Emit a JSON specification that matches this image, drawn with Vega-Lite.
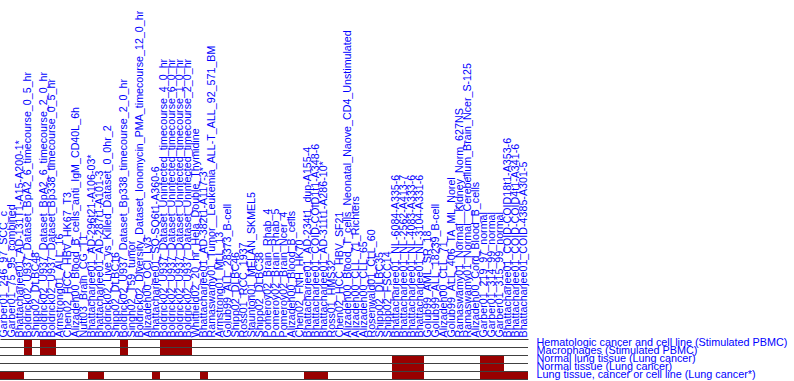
{
  "$schema": "https://vega.github.io/schema/vega-lite/v6.json",
  "autosize": {"type": "none"},
  "width": 528,
  "height": 40,
  "padding": {"left": 0, "top": 339, "right": 266, "bottom": 2},
  "background": "white",
  "config": {"view": {"stroke": null}, "font": "Liberation Sans"},
  "data": {
    "values": [
      {"sample": "Garber01_246_97_SCC_c", "h": 0, "m": 0, "nl": 0, "nt": 0, "lc": 1},
      {"sample": "Garber01_75_95_combined", "h": 0, "m": 0, "nl": 0, "nt": 0, "lc": 1},
      {"sample": "Bhattacharjee01_AD-131T1-A15-A200-1*", "h": 0, "m": 0, "nl": 0, "nt": 0, "lc": 1},
      {"sample": "Boldrick02_U937_Dataset_BpA2_6_timecourse_0_5_hr", "h": 1, "m": 1, "nl": 0, "nt": 0, "lc": 0},
      {"sample": "Shipp02_DLBC48", "h": 0, "m": 0, "nl": 0, "nt": 0, "lc": 0},
      {"sample": "Boldrick02_U937_Dataset_BpA2_6_timecourse_2_0_hr", "h": 1, "m": 1, "nl": 0, "nt": 0, "lc": 0},
      {"sample": "Boldrick02_U937_Dataset_Bp338_timecourse_0_5_hr", "h": 1, "m": 1, "nl": 0, "nt": 0, "lc": 0},
      {"sample": "Armstrong01_ALL_16", "h": 0, "m": 0, "nl": 0, "nt": 0, "lc": 0},
      {"sample": "Chen02_HCC_HBV_HK67_T3", "h": 0, "m": 0, "nl": 0, "nt": 0, "lc": 0},
      {"sample": "Alizadeh00_Blood_B_cells_anti_IgM_CD40L_6h", "h": 0, "m": 0, "nl": 0, "nt": 0, "lc": 0},
      {"sample": "Nutt03_Brain_CG_T1", "h": 0, "m": 0, "nl": 0, "nt": 0, "lc": 0},
      {"sample": "Bhattacharjee01_AD-296t21-A106-03*", "h": 0, "m": 0, "nl": 0, "nt": 0, "lc": 1},
      {"sample": "Bhattacharjee01_AD-287t1-A101-3", "h": 0, "m": 0, "nl": 0, "nt": 0, "lc": 1},
      {"sample": "Boldrick02_Live_vs_Killed_Dataset_0_0hr_2", "h": 0, "m": 0, "nl": 0, "nt": 0, "lc": 0},
      {"sample": "Shipp02_DLBC16", "h": 0, "m": 0, "nl": 0, "nt": 0, "lc": 0},
      {"sample": "Boldrick02_U937_Dataset_Bp338_timecourse_2_0_hr", "h": 1, "m": 1, "nl": 0, "nt": 0, "lc": 0},
      {"sample": "Singh02_T59_tumor", "h": 0, "m": 0, "nl": 0, "nt": 0, "lc": 0},
      {"sample": "Boldrick02_Diversity_Dataset_Ionomycin_PMA_timecourse_12_0_hr", "h": 0, "m": 0, "nl": 0, "nt": 0, "lc": 0},
      {"sample": "Alizadeh00_OCI_Ly3", "h": 0, "m": 0, "nl": 0, "nt": 0, "lc": 0},
      {"sample": "Bhattacharjee01_SQ-SQ6t1-A360-6", "h": 0, "m": 0, "nl": 0, "nt": 0, "lc": 1},
      {"sample": "Boldrick02_U937_Dataset_Uninfected_timecourse_4_0_hr", "h": 1, "m": 1, "nl": 0, "nt": 0, "lc": 0},
      {"sample": "Boldrick02_U937_Dataset_Uninfected_timecourse_6_0_hr", "h": 1, "m": 1, "nl": 0, "nt": 0, "lc": 0},
      {"sample": "Boldrick02_U937_Dataset_Uninfected_timecourse_1_0_hr", "h": 1, "m": 1, "nl": 0, "nt": 0, "lc": 0},
      {"sample": "Boldrick02_U937_Dataset_Uninfected_timecourse_2_0_hr", "h": 1, "m": 1, "nl": 0, "nt": 0, "lc": 0},
      {"sample": "Whitfield02_20_hr_Hela_Double_Thymidine", "h": 0, "m": 0, "nl": 0, "nt": 0, "lc": 0},
      {"sample": "Bhattacharjee01_AD-382t1-A117-3*", "h": 0, "m": 0, "nl": 0, "nt": 0, "lc": 1},
      {"sample": "Ramaswamy01_Tumor__Leukemia_ALL-T_ALL_92_571_BM", "h": 0, "m": 0, "nl": 0, "nt": 0, "lc": 0},
      {"sample": "Armstrong01_MLL_13", "h": 0, "m": 0, "nl": 0, "nt": 0, "lc": 0},
      {"sample": "Golub99_ALL_28373_B-cell", "h": 0, "m": 0, "nl": 0, "nt": 0, "lc": 0},
      {"sample": "Shipp02_DLBC46", "h": 0, "m": 0, "nl": 0, "nt": 0, "lc": 0},
      {"sample": "Ross01_RCC_1937", "h": 0, "m": 0, "nl": 0, "nt": 0, "lc": 0},
      {"sample": "Staunton01_MELAN_SKMEL5", "h": 0, "m": 0, "nl": 0, "nt": 0, "lc": 0},
      {"sample": "Shipp02_DLBC38", "h": 0, "m": 0, "nl": 0, "nt": 0, "lc": 0},
      {"sample": "Pomeroy02_Brain_Rhab_4", "h": 0, "m": 0, "nl": 0, "nt": 0, "lc": 0},
      {"sample": "Pomeroy02_Brain_Rhab_5", "h": 0, "m": 0, "nl": 0, "nt": 0, "lc": 0},
      {"sample": "Pomeroy02_Brain_Ncer_4", "h": 0, "m": 0, "nl": 0, "nt": 0, "lc": 0},
      {"sample": "Alizadeh00_Blood_B_cells", "h": 0, "m": 0, "nl": 0, "nt": 0, "lc": 0},
      {"sample": "Chen02_FNH_HK70", "h": 0, "m": 0, "nl": 0, "nt": 0, "lc": 0},
      {"sample": "Bhattacharjee01_AD-234t1_dup-A155-4", "h": 0, "m": 0, "nl": 0, "nt": 0, "lc": 1},
      {"sample": "Bhattacharjee01_COID-COID1t1-A348-6", "h": 0, "m": 0, "nl": 0, "nt": 0, "lc": 1},
      {"sample": "Bhattacharjee01_AD-311t1-A286-10*", "h": 0, "m": 0, "nl": 0, "nt": 0, "lc": 1},
      {"sample": "Ross01_HMS32", "h": 0, "m": 0, "nl": 0, "nt": 0, "lc": 0},
      {"sample": "Chen02_HCC_HBV_SF21", "h": 0, "m": 0, "nl": 0, "nt": 0, "lc": 0},
      {"sample": "Alizadeh00_Blood_T_cells_Neonatal_Naove_CD4_Unstimulated", "h": 0, "m": 0, "nl": 0, "nt": 0, "lc": 0},
      {"sample": "Alizadeh00_CLL_71_Richters", "h": 0, "m": 0, "nl": 0, "nt": 0, "lc": 0},
      {"sample": "Alizadeh00_CLL_65", "h": 0, "m": 0, "nl": 0, "nt": 0, "lc": 0},
      {"sample": "Rosenwald01_CLL_60", "h": 0, "m": 0, "nl": 0, "nt": 0, "lc": 0},
      {"sample": "Shipp02_DLBC35", "h": 0, "m": 0, "nl": 0, "nt": 0, "lc": 0},
      {"sample": "Shipp02_FSCC14", "h": 0, "m": 0, "nl": 0, "nt": 0, "lc": 0},
      {"sample": "Bhattacharjee01_NL-6084-A335-6", "h": 0, "m": 0, "nl": 1, "nt": 1, "lc": 1},
      {"sample": "Bhattacharjee01_NL-2562-A413-7", "h": 0, "m": 0, "nl": 1, "nt": 1, "lc": 1},
      {"sample": "Bhattacharjee01_NL-4083-A333-6", "h": 0, "m": 0, "nl": 1, "nt": 1, "lc": 1},
      {"sample": "Bhattacharjee01_NL-3104-A331-6", "h": 0, "m": 0, "nl": 1, "nt": 1, "lc": 1},
      {"sample": "Golub99_AML_SR_18", "h": 0, "m": 0, "nl": 0, "nt": 0, "lc": 0},
      {"sample": "Golub99_ALL_18239_B-cell", "h": 0, "m": 0, "nl": 0, "nt": 0, "lc": 0},
      {"sample": "Alizadeh00_CLL_71", "h": 0, "m": 0, "nl": 0, "nt": 0, "lc": 0},
      {"sample": "Golub99_ALL_406_TA_ML_Norel", "h": 0, "m": 0, "nl": 0, "nt": 0, "lc": 0},
      {"sample": "Ramaswamy01_Normal__Kidney_Norm_627NS", "h": 0, "m": 0, "nl": 0, "nt": 0, "lc": 0},
      {"sample": "Ramaswamy01_Normal__Cerebellum_Brain_Ncer_S-125", "h": 0, "m": 0, "nl": 0, "nt": 0, "lc": 0},
      {"sample": "Alizadeh00_Cord_Blood_B_cells", "h": 0, "m": 0, "nl": 0, "nt": 0, "lc": 0},
      {"sample": "Garber01_219_97_normal", "h": 0, "m": 0, "nl": 1, "nt": 1, "lc": 1},
      {"sample": "Garber01_314_99_normal", "h": 0, "m": 0, "nl": 1, "nt": 1, "lc": 1},
      {"sample": "Garber01_315_99_normal", "h": 0, "m": 0, "nl": 1, "nt": 1, "lc": 1},
      {"sample": "Bhattacharjee01_COID-COID18t1-A353-6", "h": 0, "m": 0, "nl": 0, "nt": 0, "lc": 1},
      {"sample": "Bhattacharjee01_COID-COID4t1-A341-6", "h": 0, "m": 0, "nl": 0, "nt": 0, "lc": 1},
      {"sample": "Bhattacharjee01_COID-4385-A301-5", "h": 0, "m": 0, "nl": 0, "nt": 0, "lc": 1}
    ]
  },
  "transform": [{"fold": ["h", "m", "nl", "nt", "lc"], "as": ["cat", "v"]}],
  "layer": [
    {
      "mark": {"type": "rect"},
      "encoding": {
        "x": {
          "field": "sample", "type": "nominal", "sort": null,
          "scale": {"paddingInner": 0, "paddingOuter": 0},
          "axis": {"orient": "top", "title": null, "labelAngle": -90, "ticks": false,
                   "domain": true, "domainColor": "#404040", "domainWidth": 1,
                   "labelColor": "#0000ff", "labelFontSize": 10.7, "labelPadding": 2,
                   "labelOverlap": false, "labelLimit": 400, "labelBound": false, "zindex": 1}
        },
        "y": {
          "field": "cat", "type": "nominal", "sort": ["h", "m", "nl", "nt", "lc"],
          "scale": {"paddingInner": 0, "paddingOuter": 0},
          "axis": {"orient": "right", "title": null, "ticks": false, "domain": false,
                   "labelColor": "#0000ff", "labelFontSize": 10.8, "labelPadding": 8,
                   "labelLimit": 400, "grid": false,
                   "labelExpr": "{'h':'Hematologic cancer and cell line (Stimulated PBMC)','m':'Macrophages (Stimulated PBMC)','nl':'Normal lung tissue (Lung cancer)','nt':'Normal tissue (Lung cancer)','lc':'Lung tissue, cancer or cell line (Lung cancer*)'}[datum.value]"}
        },
        "fill": {"condition": {"test": "datum.v == 1", "value": "#990000"}, "value": "transparent"}
      }
    },
    {
      "transform": [{"aggregate": [{"op": "count", "as": "n"}], "groupby": ["cat"]}],
      "mark": {"type": "rule", "color": "#404040", "strokeWidth": 1, "yOffset": 0.5},
      "encoding": {
        "y": {"field": "cat", "type": "nominal", "sort": ["h", "m", "nl", "nt", "lc"], "bandPosition": 1}
      }
    }
  ]
}
